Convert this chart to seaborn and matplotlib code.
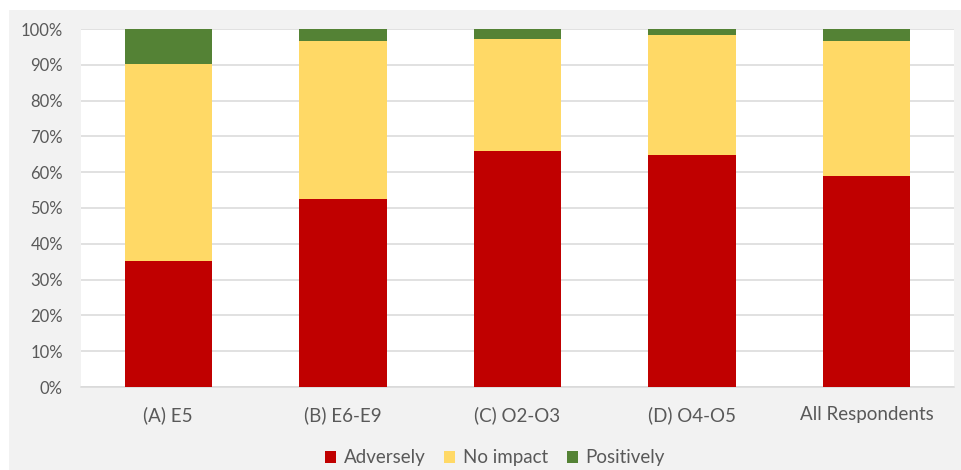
import numpy as np
import pandas as pd
import matplotlib
matplotlib.use("Agg")
import matplotlib.pyplot as plt
import seaborn as sns
from matplotlib.patches import Rectangle
from matplotlib.ticker import PercentFormatter

categories = ["(A) E5", "(B) E6-E9", "(C) O2-O3", "(D) O4-O5", "All Respondents"]
adversely = [35.2, 52.4, 65.9, 64.9, 58.9]
no_impact = [55.0, 44.3, 31.3, 33.4, 37.8]
positively = [9.8, 3.3, 2.8, 1.7, 3.3]
series_names = ["Adversely", "No impact", "Positively"]
colors = ["#C00000", "#FFD966", "#548235"]

sns.set_theme(style="white")
plt.rcParams["font.family"] = ["Lato", "DejaVu Sans"]

df = pd.DataFrame({"category": categories, "Adversely": adversely,
                   "No impact": no_impact, "Positively": positively})
vals = df[series_names].to_numpy()
cum = np.cumsum(vals, axis=1)

fig = plt.figure(figsize=(9.62, 4.70), dpi=100)
fig.patch.set_facecolor("white")
fig.patches.append(Rectangle((9/962, 0), (962-9)/962, (470-10)/470,
                             transform=fig.transFigure, facecolor="#F2F2F2",
                             edgecolor="none", zorder=-5))
ax = fig.add_axes([81/962, (470-387)/470, (954-81)/962, (387-29)/470])
ax.set_zorder(2)
ax.set_facecolor("white")

for i in range(len(series_names) - 1, -1, -1):
    plot_df = pd.DataFrame({"category": categories, "value": cum[:, i]})
    sns.barplot(data=plot_df, x="category", y="value", color=colors[i],
                width=0.5, saturation=1, ax=ax, zorder=3, linewidth=0)

ax.set_xlim(-0.5, len(categories) - 0.5)
ax.set_ylim(0, 100)
ax.set_yticks(np.arange(0, 101, 10))
ax.yaxis.set_major_formatter(PercentFormatter(decimals=0))
ax.grid(axis="y", color="#D9D9D9", linewidth=1.1, zorder=0)
ax.set_axisbelow(True)
for s in ["top", "right", "left"]:
    ax.spines[s].set_visible(False)
ax.spines["bottom"].set_color("#D9D9D9")
ax.spines["bottom"].set_linewidth(1.1)
ax.set_xlabel("")
ax.set_ylabel("")
ax.tick_params(axis="y", length=0, pad=13, labelsize=12, labelcolor="#595959")
ax.tick_params(axis="x", length=0, pad=14, labelsize=13.5, labelcolor="#595959")

handles = [Rectangle((0, 0), 1, 1, facecolor=c, edgecolor="none") for c in colors]
fig.legend(handles, series_names, loc="center", bbox_to_anchor=(495/962, 1 - 458/470),
           ncol=3, frameon=False, fontsize=13.5, labelcolor="#595959",
           handlelength=0.6, handleheight=0.6, handletextpad=0.4, columnspacing=1.0)

fig.savefig("out.png", dpi=100)
